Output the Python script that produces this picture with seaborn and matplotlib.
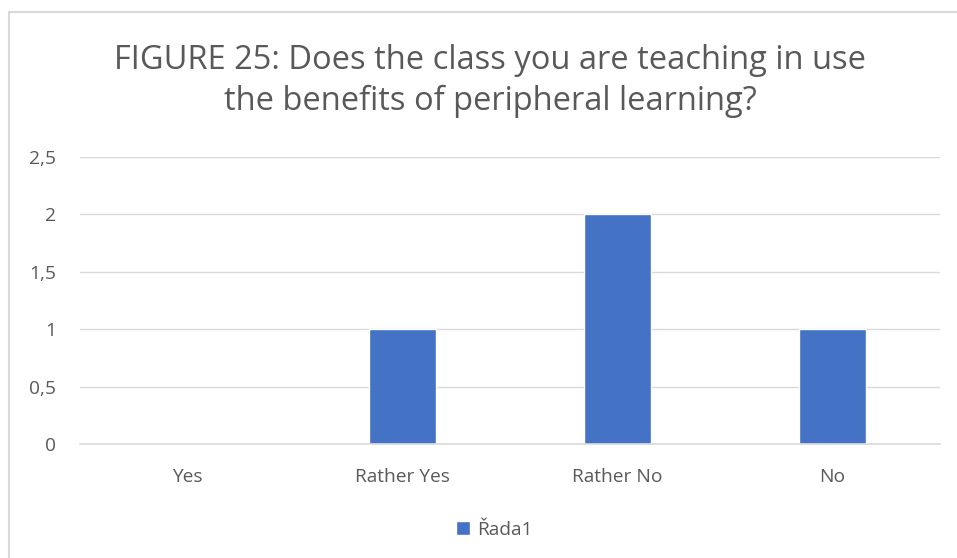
import pandas as pd
import matplotlib.pyplot as plt
import seaborn as sns
from matplotlib.patches import Rectangle
from matplotlib.ticker import FuncFormatter

# data
categories = ['Yes', 'Rather Yes', 'Rather No', 'No']
values = [0, 1, 2, 1]
series_name = 'Řada1'

df = pd.DataFrame({'answer': categories, 'count': values, 'series': series_name})

sns.set_theme(style='white')
plt.rcParams['font.family'] = ['Open Sans', 'DejaVu Sans']

grey = '#595959'
blue = '#4472C4'

fig = plt.figure(figsize=(9.57, 5.58), dpi=100)
ax = fig.add_axes([80 / 957, 1 - 444 / 558, 860 / 957, 287 / 558])

sns.barplot(data=df, x='answer', y='count', hue='series', palette=[blue],
            width=0.31, ax=ax, saturation=1)

ax.set_ylim(0, 2.5)
ax.set_yticks([0, 0.5, 1, 1.5, 2, 2.5])
ax.yaxis.set_major_formatter(FuncFormatter(lambda v, p: f'{v:g}'.replace('.', ',')))
ax.grid(axis='y', color='#D9D9D9', linewidth=1)
ax.set_axisbelow(True)
for s in ['top', 'right', 'left']:
    ax.spines[s].set_visible(False)
ax.spines['bottom'].set_color('#D9D9D9')
ax.spines['bottom'].set_linewidth(1.2)
ax.tick_params(axis='both', length=0, labelsize=13.8, labelcolor=grey)
ax.tick_params(axis='y', pad=17)
ax.tick_params(axis='x', pad=17.5)
ax.set_xlabel('')
ax.set_ylabel('')

leg = ax.legend(loc='center', bbox_to_anchor=(494 / 957, 1 - 530 / 558),
                bbox_transform=fig.transFigure, frameon=False, fontsize=13.8,
                handlelength=0.75, handleheight=0.75, handletextpad=0.35)
for t in leg.get_texts():
    t.set_color(grey)

fig.text(490 / 957, 1 - 81 / 558, 'FIGURE 25: Does the class you are teaching in use\nthe benefits of peripheral learning?',
         ha='center', va='center', fontsize=23.5, color=grey, linespacing=1.28)

# chart border
fig.patches.append(Rectangle((9 / 957, -0.01), 1.0, 1 - 12 / 558 + 0.01, transform=fig.transFigure,
                             fill=False, edgecolor='#D9D9D9', linewidth=1.5))

fig.savefig('out.png', dpi=100)
